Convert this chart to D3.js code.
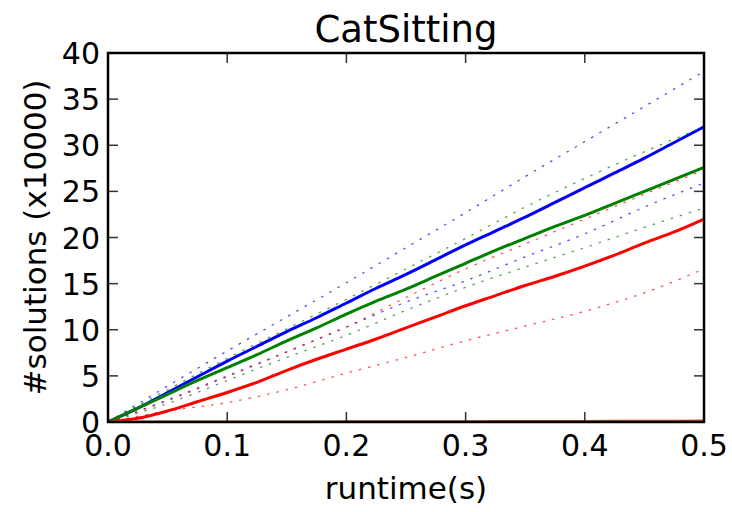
<!DOCTYPE html>
<html><head><meta charset="utf-8">
<script src="https://cdn.jsdelivr.net/npm/d3@7"></script>
<style>body{margin:0;background:#fff}svg{display:block}text{font-family:"DejaVu Sans",sans-serif;fill:#000}</style>
</head><body><svg id="c" width="732" height="512"></svg>
<script>
const title = "CatSitting";
const xLabel = "runtime(s)";
const yLabel = "#solutions (x10000)";
const xTicks = [0.0, 0.1, 0.2, 0.3, 0.4, 0.5];
const yTicks = [0, 5, 10, 15, 20, 25, 30, 35, 40];

const xFine = [0,0.025,0.05,0.075,0.1,0.125,0.15,0.175,0.2,0.225,0.25,0.275,0.3,0.325,0.35,0.375,0.4,0.425,0.45,0.475,0.5];
const xCoarse = [0,0.05,0.1,0.15,0.2,0.25,0.3,0.35,0.4,0.45,0.5];

const blueMean = [0,1.5,3.2,4.9,6.6,8.2,9.8,11.3,12.9,14.5,16.0,17.6,19.2,20.7,22.2,23.8,25.4,27.0,28.6,30.3,32.0];
const blueHigh = [0,3.9,7.7,11.4,15.1,18.9,22.7,26.6,30.4,34.2,38.0];
const blueLow  = [0,2.4,5.0,7.6,10.3,13.0,15.3,17.9,20.4,23.3,25.9];

const greenMean = [0,1.5,3.0,4.5,5.9,7.3,8.8,10.2,11.7,13.1,14.4,15.8,17.2,18.6,19.9,21.2,22.4,23.7,25.0,26.3,27.6];
const greenHigh = [0,3.5,6.9,10.1,13.3,16.6,19.9,23.3,26.4,29.3,32.0];
const greenLow  = [0,2.0,4.5,7.0,9.4,12.1,14.6,16.8,18.9,21.1,23.2];

const redMean = [0,0.4,1.2,2.2,3.2,4.3,5.6,6.8,7.9,9.0,10.2,11.4,12.6,13.7,14.8,15.8,16.9,18.1,19.4,20.6,22.0];
const redHigh = [0,2.3,4.9,7.6,10.3,13.5,16.6,19.3,22.0,24.7,27.3];
const redLow  = [0,1.2,2.1,3.5,5.3,7.0,8.8,10.4,12.0,14.0,16.6];

const brownMean = [0,0,0.01,0.01,0.02,0.03,0.04,0.05,0.06,0.08,0.1];

const series = [
  {x: xFine, y: blueMean, color: "#0000ff", solid: true},
  {x: xCoarse, y: blueHigh, color: "#0000ff", solid: false},
  {x: xCoarse, y: blueLow, color: "#0000ff", solid: false},
  {x: xFine, y: greenMean, color: "#008000", solid: true},
  {x: xCoarse, y: greenHigh, color: "#008000", solid: false},
  {x: xCoarse, y: greenLow, color: "#008000", solid: false},
  {x: xFine, y: redMean, color: "#ff0000", solid: true},
  {x: xCoarse, y: redHigh, color: "#ff0000", solid: false},
  {x: xCoarse, y: redLow, color: "#ff0000", solid: false},
  {x: xCoarse, y: brownMean, color: "#b5562a", solid: true}
];

const L = 108, R = 704, T = 53, B = 422;
const svg = d3.select("#c");
const x = d3.scaleLinear().domain([0, 0.5]).range([L, R]);
const y = d3.scaleLinear().domain([0, 40]).range([B, T]);

svg.append("clipPath").attr("id","pc").append("rect")
  .attr("x", L).attr("y", T - 2).attr("width", R - L).attr("height", B - T + 2);

const g = svg.append("g").attr("clip-path","url(#pc)");
const line = d3.line().curve(d3.curveMonotoneX);
series.forEach(s => {
  const pts = s.x.map((v,i) => [x(v), y(s.y[i])]);
  const p = g.append("path").attr("d", line(pts)).attr("fill","none")
    .attr("stroke", s.color);
  if (s.solid) p.attr("stroke-width", 3);
  else p.attr("stroke-width", 1.3).attr("stroke-dasharray", "2.5,7").attr("opacity", 0.7);
});

const tk = svg.append("g").attr("stroke","#333").attr("stroke-width",1.5);
xTicks.forEach(t => {
  tk.append("line").attr("x1", x(t)).attr("x2", x(t)).attr("y1", B).attr("y2", B - 10);
  tk.append("line").attr("x1", x(t)).attr("x2", x(t)).attr("y1", T).attr("y2", T + 10);
});
yTicks.forEach(t => {
  tk.append("line").attr("x1", L).attr("x2", L + 10).attr("y1", y(t)).attr("y2", y(t));
  tk.append("line").attr("x1", R).attr("x2", R - 10).attr("y1", y(t)).attr("y2", y(t));
});

svg.append("rect").attr("x", L).attr("y", T).attr("width", R - L).attr("height", B - T)
  .attr("fill","none").attr("stroke","#000").attr("stroke-width",2.5);

xTicks.forEach(t => {
  svg.append("text").attr("x", x(t)).attr("y", B + 34).attr("text-anchor","middle")
    .attr("font-size", 30).text(d3.format(".1f")(t));
});
yTicks.forEach(t => {
  svg.append("text").attr("x", L - 8).attr("y", y(t) + 11).attr("text-anchor","end")
    .attr("font-size", 30).text(t);
});

svg.append("text").attr("x", (L + R) / 2).attr("y", 42).attr("text-anchor","middle")
  .attr("font-size", 37).text(title);
svg.append("text").attr("x", (L + R) / 2).attr("y", 499).attr("text-anchor","middle")
  .attr("font-size", 31).text(xLabel);
svg.append("text").attr("transform", `translate(46,${(T + B) / 2}) rotate(-90)`)
  .attr("text-anchor","middle").attr("font-size", 31).text(yLabel);
</script></body></html>
